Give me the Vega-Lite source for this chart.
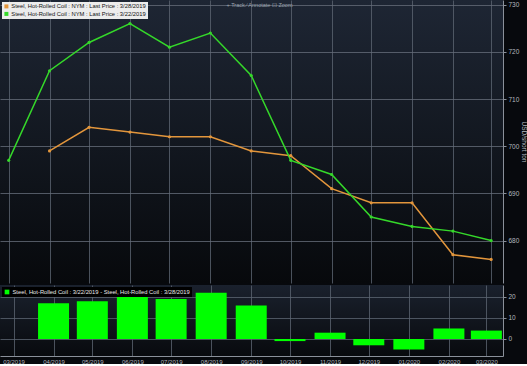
{
  "$schema": "https://vega.github.io/schema/vega-lite/v6.json",
  "padding": 0,
  "background": "#07090d",
  "spacing": 2,
  "config": {
    "font": "Liberation Sans",
    "view": {"stroke": null},
    "axis": {"labelColor": "#b4b8bf", "labelFontSize": 6.5, "gridColor": "#5c6471", "gridWidth": 0.8, "domainColor": "#8a909a", "tickColor": "#8a909a", "tickSize": 3}
  },
  "datasets": {
    "prices": [
      {"date": "2019-04-01T00:00:00", "series": "Steel, Hot-Rolled Coil : NYM : Last Price : 3/28/2019", "value": 699},
      {"date": "2019-05-01T00:00:00", "series": "Steel, Hot-Rolled Coil : NYM : Last Price : 3/28/2019", "value": 704},
      {"date": "2019-06-01T00:00:00", "series": "Steel, Hot-Rolled Coil : NYM : Last Price : 3/28/2019", "value": 703},
      {"date": "2019-07-01T00:00:00", "series": "Steel, Hot-Rolled Coil : NYM : Last Price : 3/28/2019", "value": 702},
      {"date": "2019-08-01T00:00:00", "series": "Steel, Hot-Rolled Coil : NYM : Last Price : 3/28/2019", "value": 702},
      {"date": "2019-09-01T00:00:00", "series": "Steel, Hot-Rolled Coil : NYM : Last Price : 3/28/2019", "value": 699},
      {"date": "2019-10-01T00:00:00", "series": "Steel, Hot-Rolled Coil : NYM : Last Price : 3/28/2019", "value": 698},
      {"date": "2019-11-01T00:00:00", "series": "Steel, Hot-Rolled Coil : NYM : Last Price : 3/28/2019", "value": 691},
      {"date": "2019-12-01T00:00:00", "series": "Steel, Hot-Rolled Coil : NYM : Last Price : 3/28/2019", "value": 688},
      {"date": "2020-01-01T00:00:00", "series": "Steel, Hot-Rolled Coil : NYM : Last Price : 3/28/2019", "value": 688},
      {"date": "2020-02-01T00:00:00", "series": "Steel, Hot-Rolled Coil : NYM : Last Price : 3/28/2019", "value": 677},
      {"date": "2020-03-01T00:00:00", "series": "Steel, Hot-Rolled Coil : NYM : Last Price : 3/28/2019", "value": 676},
      {"date": "2019-03-01T00:00:00", "series": "Steel, Hot-Rolled Coil : NYM : Last Price : 3/22/2019", "value": 697},
      {"date": "2019-04-01T00:00:00", "series": "Steel, Hot-Rolled Coil : NYM : Last Price : 3/22/2019", "value": 716},
      {"date": "2019-05-01T00:00:00", "series": "Steel, Hot-Rolled Coil : NYM : Last Price : 3/22/2019", "value": 722},
      {"date": "2019-06-01T00:00:00", "series": "Steel, Hot-Rolled Coil : NYM : Last Price : 3/22/2019", "value": 726},
      {"date": "2019-07-01T00:00:00", "series": "Steel, Hot-Rolled Coil : NYM : Last Price : 3/22/2019", "value": 721},
      {"date": "2019-08-01T00:00:00", "series": "Steel, Hot-Rolled Coil : NYM : Last Price : 3/22/2019", "value": 724},
      {"date": "2019-09-01T00:00:00", "series": "Steel, Hot-Rolled Coil : NYM : Last Price : 3/22/2019", "value": 715},
      {"date": "2019-10-01T00:00:00", "series": "Steel, Hot-Rolled Coil : NYM : Last Price : 3/22/2019", "value": 697},
      {"date": "2019-11-01T00:00:00", "series": "Steel, Hot-Rolled Coil : NYM : Last Price : 3/22/2019", "value": 694},
      {"date": "2019-12-01T00:00:00", "series": "Steel, Hot-Rolled Coil : NYM : Last Price : 3/22/2019", "value": 685},
      {"date": "2020-01-01T00:00:00", "series": "Steel, Hot-Rolled Coil : NYM : Last Price : 3/22/2019", "value": 683},
      {"date": "2020-02-01T00:00:00", "series": "Steel, Hot-Rolled Coil : NYM : Last Price : 3/22/2019", "value": 682},
      {"date": "2020-03-01T00:00:00", "series": "Steel, Hot-Rolled Coil : NYM : Last Price : 3/22/2019", "value": 680}
    ],
    "diff": [
      {"date": "2019-04-01T00:00:00", "series": "Steel, Hot-Rolled Coil : 3/22/2019 - Steel, Hot-Rolled Coil : 3/28/2019", "diff": 17},
      {"date": "2019-05-01T00:00:00", "series": "Steel, Hot-Rolled Coil : 3/22/2019 - Steel, Hot-Rolled Coil : 3/28/2019", "diff": 18},
      {"date": "2019-06-01T00:00:00", "series": "Steel, Hot-Rolled Coil : 3/22/2019 - Steel, Hot-Rolled Coil : 3/28/2019", "diff": 23},
      {"date": "2019-07-01T00:00:00", "series": "Steel, Hot-Rolled Coil : 3/22/2019 - Steel, Hot-Rolled Coil : 3/28/2019", "diff": 19},
      {"date": "2019-08-01T00:00:00", "series": "Steel, Hot-Rolled Coil : 3/22/2019 - Steel, Hot-Rolled Coil : 3/28/2019", "diff": 22},
      {"date": "2019-09-01T00:00:00", "series": "Steel, Hot-Rolled Coil : 3/22/2019 - Steel, Hot-Rolled Coil : 3/28/2019", "diff": 16},
      {"date": "2019-10-01T00:00:00", "series": "Steel, Hot-Rolled Coil : 3/22/2019 - Steel, Hot-Rolled Coil : 3/28/2019", "diff": -1},
      {"date": "2019-11-01T00:00:00", "series": "Steel, Hot-Rolled Coil : 3/22/2019 - Steel, Hot-Rolled Coil : 3/28/2019", "diff": 3},
      {"date": "2019-12-01T00:00:00", "series": "Steel, Hot-Rolled Coil : 3/22/2019 - Steel, Hot-Rolled Coil : 3/28/2019", "diff": -3},
      {"date": "2020-01-01T00:00:00", "series": "Steel, Hot-Rolled Coil : 3/22/2019 - Steel, Hot-Rolled Coil : 3/28/2019", "diff": -5},
      {"date": "2020-02-01T00:00:00", "series": "Steel, Hot-Rolled Coil : 3/22/2019 - Steel, Hot-Rolled Coil : 3/28/2019", "diff": 5},
      {"date": "2020-03-01T00:00:00", "series": "Steel, Hot-Rolled Coil : 3/22/2019 - Steel, Hot-Rolled Coil : 3/28/2019", "diff": 4}
    ]
  },
  "resolve": {"scale": {"color": "independent", "x": "independent", "y": "independent"}, "legend": {"color": "independent"}},
  "vconcat": [
    {
      "width": 503,
      "height": 283,
      "title": {"text": "+ Track    ∕ Annotate    ⊡ Zoom", "fontSize": 5.5, "fontWeight": "normal", "color": "#9aa2ae", "anchor": "middle", "offset": -8, "dx": 8},
      "view": {"fill": {"gradient": "linear", "x1": 0, "y1": 0, "x2": 0, "y2": 1, "stops": [{"offset": 0, "color": "#1e2634"}, {"offset": 1, "color": "#07090c"}]}},
      "data": {"name": "prices"},
      "mark": {"type": "line", "strokeWidth": 1.5, "point": {"size": 10, "filled": true}},
      "encoding": {
        "x": {"field": "date", "type": "temporal",
          "scale": {"domain": [{"year": 2019, "month": 2, "date": 22, "hours": 10}, {"year": 2020, "month": 3, "date": 10}]},
          "axis": {"labels": false, "ticks": false, "domain": false, "title": null, "tickCount": {"interval": "month", "step": 1}, "grid": true}},
        "y": {"field": "value", "type": "quantitative",
          "scale": {"domain": [671, 731], "nice": false, "zero": false},
          "axis": {"orient": "right", "values": [680, 690, 700, 710, 720, 730], "title": "USD/short ton", "titleColor": "#b4b8bf", "titleFontSize": 6.5, "titleFontWeight": "normal", "titlePadding": 2, "labelPadding": 2, "gridColor": "#646c79"}},
        "color": {"field": "series", "type": "nominal",
          "scale": {"domain": ["Steel, Hot-Rolled Coil : NYM : Last Price : 3/28/2019", "Steel, Hot-Rolled Coil : NYM : Last Price : 3/22/2019"], "range": ["#e3963c", "#35d82a"]},
          "legend": {"orient": "top-left", "offset": 2, "title": null, "fillColor": "#ececec", "labelColor": "#111111", "labelFontSize": 5.8, "symbolType": "square", "symbolSize": 16, "symbolStrokeWidth": 0, "padding": 1.5, "rowPadding": 0.5, "labelLimit": 300, "labelOffset": 2}}
      }
    },
    {
      "width": 503,
      "height": 71,
      "view": {"fill": {"gradient": "linear", "x1": 0, "y1": 0, "x2": 0, "y2": 1, "stops": [{"offset": 0, "color": "#1a212d"}, {"offset": 1, "color": "#080a0e"}]}},
      "data": {"name": "diff"},
      "mark": {"type": "bar", "size": 31},
      "encoding": {
        "x": {"field": "date", "type": "temporal",
          "scale": {"domain": [{"year": 2019, "month": 2, "date": 22, "hours": 10}, {"year": 2020, "month": 3, "date": 10}]},
          "axis": {"format": "%m/%Y", "title": null, "tickCount": {"interval": "month", "step": 1}, "grid": true, "ticks": false, "labelPadding": 2, "labelFontSize": 6, "labelFlush": false, "domain": true}},
        "y": {"field": "diff", "type": "quantitative",
          "scale": {"domain": [-8.1, 25.7], "nice": false},
          "axis": {"orient": "right", "values": [0, 10, 20], "title": null, "labelPadding": 2}},
        "color": {"field": "series", "type": "nominal",
          "scale": {"range": ["#00ff00"]},
          "legend": {"orient": "top-left", "offset": 2, "title": null, "fillColor": "#000000", "labelColor": "#e8e8e8", "labelFontSize": 5.8, "symbolType": "square", "symbolSize": 22, "padding": 1.5, "labelLimit": 400, "labelOffset": 2}}
      }
    }
  ]
}
